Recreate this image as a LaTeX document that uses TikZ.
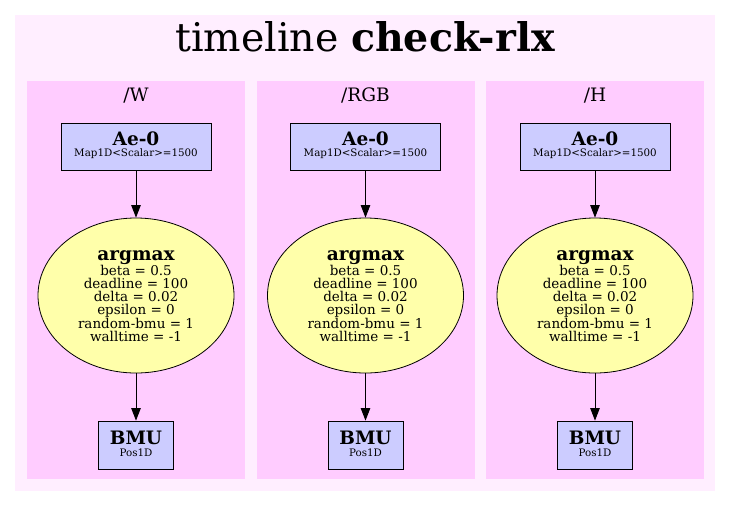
\documentclass[tikz,border=0pt]{standalone}
\usepackage{fontspec}
\setmainfont{DejaVu Serif}
\usetikzlibrary{arrows.meta,shapes.geometric}
\definecolor{outerbg}{HTML}{FFEEFF}
\definecolor{clusterbg}{HTML}{FFCCFF}
\definecolor{boxfill}{HTML}{CCCCFF}
\definecolor{ellfill}{HTML}{FFFFAA}
\tikzset{
  boxnode/.style={draw=black, fill=boxfill, line width=0.8pt, rectangle, inner sep=0pt},
  ellnode/.style={draw=black, fill=ellfill, line width=0.8pt, ellipse, inner sep=0pt, minimum width=196pt, minimum height=155pt},
  conn/.style={draw=black, line width=0.9pt, -{Triangle[length=12.5pt,width=9.5pt]}},
  clusterbox/.style={fill=clusterbg, draw=none},
  txt/.style={anchor=base, inner sep=0pt},
  bigtxt/.style={txt, font=\fontsize{18.5}{20}\selectfont\bfseries},
  smalltxt/.style={txt, font=\fontsize{10.3}{11}\selectfont},
  partxt/.style={txt, font=\fontsize{13.5}{14}\selectfont},
}
\begin{document}
\begin{tikzpicture}[x=1pt,y=-1pt]
\useasboundingbox (0,0) rectangle (731,507);
\fill[white] (0,0) rectangle (731,507);
\fill[outerbg] (15,15) rectangle (715,491);
\node[txt] (title) at (365,51) {\fontsize{39.5}{42}\selectfont timeline \textbf{check-rlx}};
\foreach \cx/\lab/\nm in {136/{/W}/w, 365.5/{/RGB}/rgb, 595/{/H}/h}{
  \fill[clusterbox] (\cx-109,81) rectangle (\cx+109,479);
  \node[txt, font=\fontsize{18.5}{20}\selectfont] (lab\nm) at (\cx,101) {\lab};
  \node[boxnode, minimum width=150pt, minimum height=47pt] (ae\nm) at (\cx,146.5) {};
  \node[bigtxt] (aet\nm) at (\cx,145) {Ae-0};
  \node[smalltxt] (aes\nm) at (\cx,156) {Map1D<Scalar>=1500};
  \node[ellnode] (arg\nm) at (\cx,295.5) {};
  \node[bigtxt] (argt\nm) at (\cx,260) {argmax};
  \node[partxt] (p1\nm) at (\cx,275) {beta = 0.5};
  \node[partxt] (p2\nm) at (\cx,288.3) {deadline = 100};
  \node[partxt] (p3\nm) at (\cx,301.6) {delta = 0.02};
  \node[partxt] (p4\nm) at (\cx,314.9) {epsilon = 0};
  \node[partxt] (p5\nm) at (\cx,328.2) {random-bmu = 1};
  \node[partxt] (p6\nm) at (\cx,341.5) {walltime = -1};
  \node[boxnode, minimum width=75pt, minimum height=48pt] (bmu\nm) at (\cx,445) {};
  \node[bigtxt] (bmut\nm) at (\cx,444) {BMU};
  \node[smalltxt] (bmus\nm) at (\cx,456) {Pos1D};
  \draw[conn] (ae\nm) -- (arg\nm);
  \draw[conn] (arg\nm) -- (bmu\nm);
}
\end{tikzpicture}
\end{document}
